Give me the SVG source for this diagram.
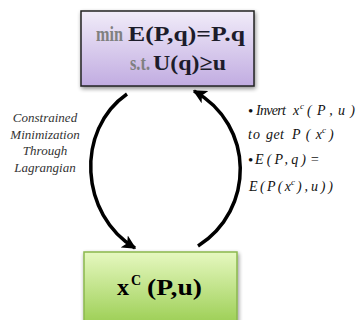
<svg xmlns="http://www.w3.org/2000/svg" width="358" height="320" viewBox="0 0 358 320">
<defs>
<linearGradient id="gPurple" x1="0" y1="0" x2="0" y2="1">
<stop offset="0" stop-color="#f1ecf9"/>
<stop offset="1" stop-color="#c1ace1"/>
</linearGradient>
<linearGradient id="gGreen" x1="0" y1="0" x2="0" y2="1">
<stop offset="0" stop-color="#e6f8c0"/>
<stop offset="1" stop-color="#94ca48"/>
</linearGradient>
<filter id="shadow" x="-10%" y="-10%" width="130%" height="140%">
<feGaussianBlur in="SourceAlpha" stdDeviation="2"/>
<feOffset dx="1" dy="2" result="b"/>
<feComponentTransfer><feFuncA type="linear" slope="0.45"/></feComponentTransfer>
<feMerge><feMergeNode/><feMergeNode in="SourceGraphic"/></feMerge>
</filter>
<marker id="arrow" viewBox="0 0 10 10" refX="9" refY="5" markerWidth="4" markerHeight="4" orient="auto" markerUnits="strokeWidth">
<path d="M0,0 L10,5 L0,10 L2.5,5 Z" fill="#000"/>
</marker>
</defs>
<style>
.conn{fill:none;stroke:#000;stroke-width:3.5;marker-end:url(#arrow)}
.big{font-family:"Liberation Serif",serif;font-weight:bold}
.dark{fill:#1c1c2a}
.gray{fill:#808080}
.note{font-family:"Liberation Serif",serif;font-style:italic;font-size:13px;fill:#333;text-anchor:middle}
.math{font-family:"Liberation Serif",serif;font-style:italic;font-size:14px;fill:#111}
.bul{font-family:"Liberation Serif",serif;font-size:15px;fill:#111}
.sup{font-size:9px}
</style>
<g id="connectors">
<path class="conn" d="M127,94 C75,130 80,215 135,248"/>
<path class="conn" d="M198,246 C255,210 255,125 194,91"/>
</g>
<g id="node-top">
<rect x="81" y="11" width="173" height="75" fill="url(#gPurple)" stroke="#222" stroke-width="1.5" filter="url(#shadow)"/>
<text class="big gray" x="96" y="41" font-size="21" textLength="27" lengthAdjust="spacingAndGlyphs">min</text>
<text class="big dark" x="128" y="41" font-size="21" textLength="117" lengthAdjust="spacingAndGlyphs">E(P,q)=P.q</text>
<text class="big gray" x="130" y="70" font-size="20" textLength="20" lengthAdjust="spacingAndGlyphs">s.t.</text>
<text class="big dark" x="153" y="70" font-size="22" textLength="73" lengthAdjust="spacingAndGlyphs">U(q)≥u</text>
</g>
<g id="node-bottom">
<rect x="84" y="252" width="153" height="80" fill="url(#gGreen)" stroke="#8ab84e" stroke-width="1.5" filter="url(#shadow)"/>
<text class="big" x="117" y="295" font-size="24" fill="#000">x</text>
<text class="big" x="131" y="285" font-size="14" fill="#000">C</text>
<text class="big" x="147" y="295" font-size="23" fill="#000" textLength="55" lengthAdjust="spacingAndGlyphs">(P,u)</text>
</g>
<g id="label-left">
<text class="note" x="45" y="122">Constrained</text>
<text class="note" x="45" y="139">Minimization</text>
<text class="note" x="45" y="155">Through</text>
<text class="note" x="45" y="172">Lagrangian</text>
</g>
<g id="label-right">
<text class="bul" x="248" y="116">•</text>
<text class="math" x="256" y="115" textLength="30" lengthAdjust="spacing">Invert</text>
<text class="math" x="293" y="115">x</text>
<text class="math sup" x="300" y="109">c</text>
<text class="math" x="307" y="115" textLength="48" lengthAdjust="spacing">(P,u)</text>
<text class="math" x="248" y="139" textLength="12" lengthAdjust="spacing">to</text>
<text class="math" x="266" y="139" textLength="18" lengthAdjust="spacing">get</text>
<text class="math" x="292" y="139" textLength="30" lengthAdjust="spacing">P(x</text>
<text class="math sup" x="322" y="133">c</text>
<text class="math" x="329" y="139">)</text>
<text class="bul" x="248" y="165">•</text>
<text class="math" x="255" y="164" textLength="51" lengthAdjust="spacing">E(P,q)</text>
<text class="math" x="310" y="164" font-style="normal">=</text>
<text class="math" x="249" y="191" textLength="42" lengthAdjust="spacing">E(P(x</text>
<text class="math sup" x="291" y="185">c</text>
<text class="math" x="297" y="191" textLength="36" lengthAdjust="spacing">),u))</text>
</g>
</svg>
